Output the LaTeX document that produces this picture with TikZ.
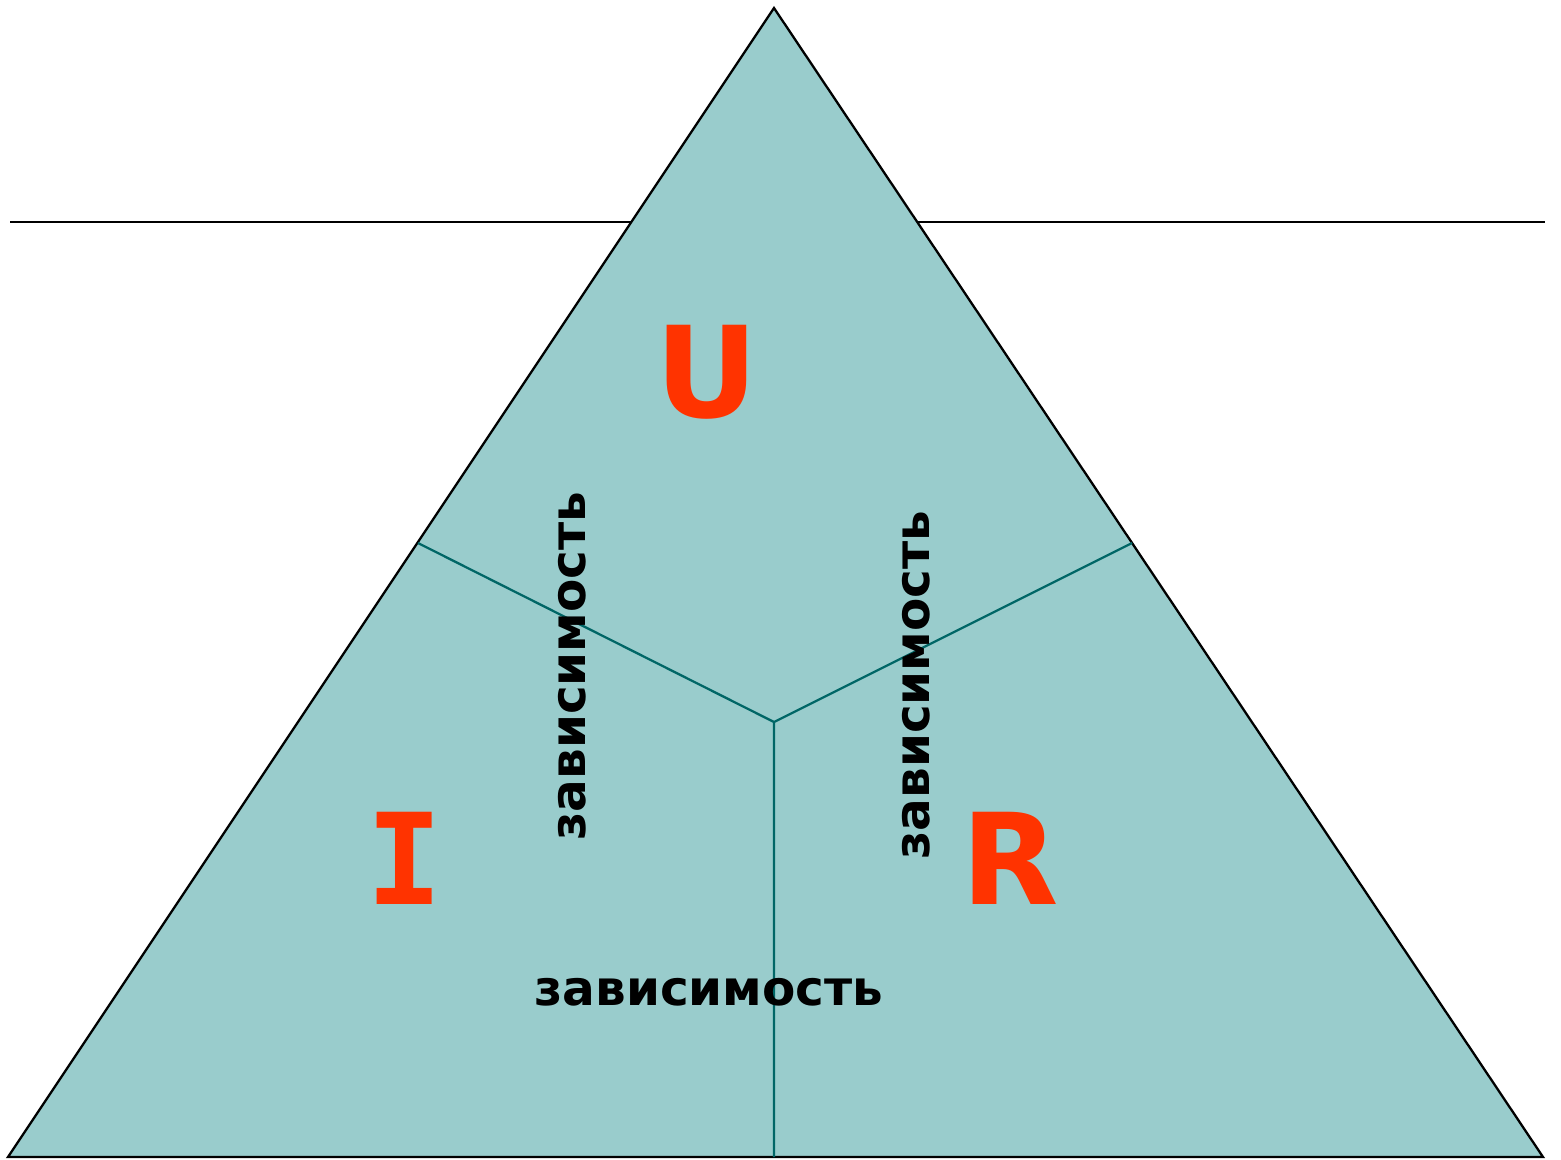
\documentclass[tikz,border=0pt]{standalone}
\usepackage{fontspec}
\setmainfont{DejaVu Sans}
\newfontfamily\monob{DejaVu Sans Mono}
\definecolor{tfill}{HTML}{99CCCC}
\definecolor{tred}{HTML}{FF3300}
\definecolor{tline}{HTML}{006666}
\begin{document}
\begin{tikzpicture}[x=0.01cm,y=-0.01cm,
  big/.style={text=tred,font=\bfseries\fontsize{36}{36}\selectfont,inner sep=0pt},
  dep/.style={font=\bfseries\fontsize{13.8}{13.8}\selectfont,inner sep=0pt}]
\useasboundingbox (0,0) rectangle (1561,1159);
\coordinate (L1) at (10,222);
\coordinate (L2) at (1545,222);
\draw[line width=0.75pt] (L1) -- (L2);
\coordinate (A) at (774,8);
\coordinate (B) at (8,1157);
\coordinate (C) at (1543,1157);
\coordinate (O) at (774,722);
\coordinate (P) at (418,543);
\coordinate (Q) at (1132,543);
\coordinate (M) at (774,1157);
\filldraw[fill=tfill,draw=black,line width=0.65pt] (A) -- (B) -- (C) -- cycle;
\draw[tline,line width=0.65pt] (P) -- (O) -- (Q) (O) -- (M);
\node[big] (U) at (707,372) {U};
\node[big,font=\monob\bfseries\fontsize{36}{36}\selectfont] (I) at (405,858) {I};
\node[big] (R) at (1010,858) {R};
\node[dep] (d1) at (709,992) {зависимость};
\node[dep,rotate=90] (d2) at (572,666) {зависимость};
\node[dep,rotate=90] (d3) at (916,685) {зависимость};
\end{tikzpicture}
\end{document}
